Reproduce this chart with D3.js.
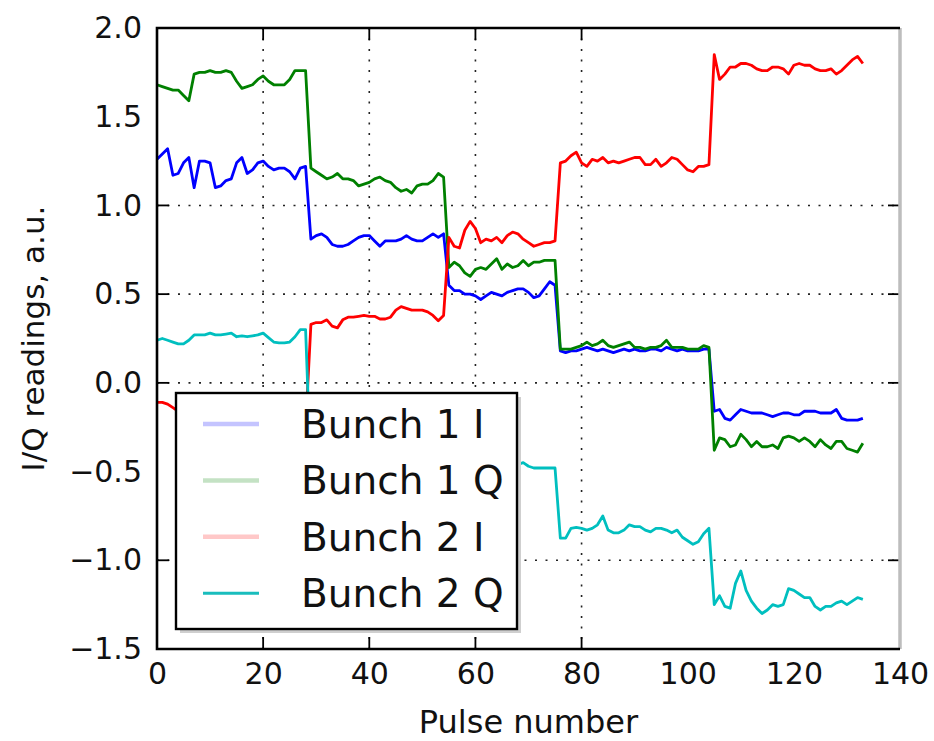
<!doctype html>
<html lang="en">
<head>
    <meta charset="utf-8">
    <title>I/Q readings</title>
    <script src='https://d3js.org/d3.v7.min.js'></script>
    <style>
        body { margin: 0; background: #fff; }
        svg text { font-family: "DejaVu Sans", sans-serif; fill: #111; }
    </style>
</head>
<body>
<script>
    // Series, one value per pulse (pulse = index)
    var bunch1I = [
        1.26,1.29,1.32,1.17,1.18,1.24,1.27,1.10,1.25,1.25,1.24,1.10,1.11,1.14,1.15,1.24,1.27,1.18,1.20,1.24,1.25,1.22,1.20,1.21,1.21,1.19,1.15,1.21,1.22,
        0.81,0.83,0.84,0.82,0.78,0.77,0.77,0.78,0.80,0.82,0.83,0.83,0.80,0.77,0.80,0.80,0.80,0.81,0.83,0.81,0.80,0.80,0.82,0.84,0.82,0.84,
        0.55,0.52,0.52,0.50,0.50,0.49,0.47,0.49,0.51,0.50,0.49,0.51,0.52,0.53,0.53,0.51,0.48,0.49,0.53,0.57,0.55,
        0.18,0.17,0.18,0.18,0.19,0.20,0.19,0.18,0.19,0.18,0.17,0.18,0.19,0.18,0.19,0.18,0.18,0.19,0.19,0.18,0.20,0.19,0.18,0.19,0.18,0.18,0.18,0.19,0.19,
        -0.16,-0.15,-0.20,-0.21,-0.18,-0.15,-0.16,-0.17,-0.17,-0.17,-0.18,-0.19,-0.18,-0.17,-0.17,-0.18,-0.18,-0.16,-0.16,-0.16,-0.17,-0.17,-0.17,-0.15,-0.20,-0.21,-0.21,-0.21,-0.20
    ];
    var bunch1Q = [
        1.68,1.67,1.66,1.65,1.65,1.62,1.59,1.74,1.75,1.75,1.76,1.75,1.75,1.76,1.75,1.70,1.66,1.67,1.68,1.71,1.73,1.70,1.68,1.68,1.68,1.71,1.76,1.76,1.76,
        1.21,1.19,1.17,1.15,1.16,1.18,1.15,1.15,1.14,1.11,1.12,1.13,1.15,1.16,1.14,1.13,1.10,1.08,1.09,1.07,1.11,1.12,1.12,1.14,1.18,1.16,
        0.65,0.68,0.66,0.62,0.60,0.64,0.65,0.64,0.67,0.70,0.64,0.67,0.65,0.66,0.69,0.66,0.68,0.68,0.69,0.69,0.69,
        0.19,0.19,0.19,0.20,0.21,0.23,0.21,0.22,0.24,0.21,0.20,0.21,0.22,0.23,0.20,0.20,0.19,0.20,0.20,0.21,0.24,0.20,0.20,0.20,0.19,0.19,0.19,0.21,0.20,
        -0.38,-0.31,-0.32,-0.36,-0.35,-0.29,-0.32,-0.36,-0.33,-0.36,-0.36,-0.35,-0.37,-0.31,-0.30,-0.31,-0.33,-0.31,-0.33,-0.36,-0.32,-0.35,-0.37,-0.33,-0.33,-0.37,-0.38,-0.39,-0.34
    ];
    var bunch2I = [
        -0.11,-0.11,-0.12,-0.14,-0.16,-0.18,-0.17,-0.19,-0.18,-0.20,-0.19,-0.21,-0.20,-0.19,-0.22,-0.21,-0.20,-0.22,-0.21,-0.23,-0.22,-0.21,-0.23,-0.24,-0.22,-0.23,-0.25,-0.24,-0.25,
        0.33,0.34,0.34,0.355,0.32,0.31,0.355,0.37,0.37,0.375,0.38,0.375,0.375,0.36,0.36,0.37,0.41,0.43,0.42,0.41,0.41,0.41,0.40,0.38,0.35,0.38,
        0.82,0.77,0.76,0.86,0.91,0.87,0.79,0.81,0.80,0.82,0.79,0.83,0.85,0.84,0.81,0.79,0.77,0.78,0.79,0.79,0.80,
        1.24,1.25,1.28,1.30,1.24,1.22,1.26,1.25,1.27,1.24,1.25,1.24,1.25,1.26,1.27,1.27,1.23,1.23,1.26,1.22,1.24,1.27,1.26,1.23,1.20,1.19,1.22,1.22,1.23,
        1.85,1.71,1.74,1.78,1.78,1.80,1.80,1.79,1.77,1.76,1.76,1.78,1.78,1.77,1.74,1.79,1.80,1.79,1.79,1.77,1.76,1.76,1.77,1.74,1.76,1.79,1.82,1.84,1.80
    ];
    var bunch2Q = [
        0.24,0.25,0.24,0.23,0.22,0.22,0.24,0.27,0.27,0.27,0.28,0.27,0.27,0.275,0.28,0.26,0.265,0.26,0.265,0.27,0.28,0.255,0.23,0.225,0.225,0.23,0.26,0.30,0.30,
        -0.52,-0.50,-0.49,-0.51,-0.50,-0.48,-0.49,-0.50,-0.51,-0.49,-0.48,-0.50,-0.49,-0.47,-0.48,-0.50,-0.49,-0.48,-0.47,-0.49,
        -0.48,-0.47,-0.48,-0.49,-0.47,-0.46,-0.48,-0.47,-0.46,-0.47,-0.48,-0.46,-0.47,-0.45,-0.46,-0.47,-0.46,-0.45,-0.46,
        -0.46,-0.45,-0.47,-0.48,-0.48,-0.48,-0.48,-0.48,
        -0.875,-0.875,-0.82,-0.815,-0.82,-0.83,-0.82,-0.80,-0.75,-0.83,-0.845,-0.845,-0.83,-0.80,-0.81,-0.81,-0.83,-0.84,-0.82,-0.82,-0.83,-0.845,-0.83,-0.87,-0.89,-0.91,-0.895,-0.85,-0.82,
        -1.25,-1.20,-1.26,-1.27,-1.13,-1.06,-1.17,-1.23,-1.27,-1.30,-1.28,-1.25,-1.26,-1.25,-1.16,-1.17,-1.19,-1.21,-1.21,-1.26,-1.28,-1.26,-1.26,-1.24,-1.23,-1.25,-1.23,-1.21,-1.22
    ];

    var seriesNames = ["Bunch 1 I", "Bunch 1 Q", "Bunch 2 I", "Bunch 2 Q"];
    var xTicks = [0, 20, 40, 60, 80, 100, 120, 140];
    var yTicks = [-1.5, -1.0, -0.5, 0.0, 0.5, 1.0, 1.5, 2.0];
    // only these grid lines / tick marks show up in the picture
    var xGrid = [20, 40, 60, 80];
    var yGrid = [-1.0, 0.0, 0.5, 1.0];

    const width  = 934;
    const height = 741;
    const plotLeft = 157, plotRight = 900, plotTop = 28, plotBottom = 649;

    var lineColours   = ["#0000ff", "#008000", "#ff0000", "#00bfbf"];
    var legendColours = ["#c4c4ff", "#c4e2c4", "#ffc8c8", "#19bdbd"];

    var svg = d3.select("body")
        .append("svg")
        .attr("width", width)
        .attr("height", height);

    // scales
    var xscale = d3.scaleLinear().domain([0, 140]).range([plotLeft, plotRight]);
    var yscale = d3.scaleLinear().domain([-1.5, 2.0]).range([plotBottom, plotTop]);

    // dotted grid
    svg.append("g").selectAll("line")
        .data(xGrid).enter().append("line")
        .attr("x1", d => xscale(d)).attr("x2", d => xscale(d))
        .attr("y1", plotTop).attr("y2", plotBottom)
        .attr("stroke", "#222").attr("stroke-width", 1.6)
        .attr("stroke-dasharray", "2,8.5");
    svg.append("g").selectAll("line")
        .data(yGrid).enter().append("line")
        .attr("x1", plotLeft).attr("x2", plotRight)
        .attr("y1", d => yscale(d)).attr("y2", d => yscale(d))
        .attr("stroke", "#222").attr("stroke-width", 1.6)
        .attr("stroke-dasharray", "2,8.5");

    // data lines
    var line = d3.line()
        .x((d, i) => xscale(i))
        .y(d => yscale(d));
    var allSeries = [bunch1I, bunch1Q, bunch2I, bunch2Q];
    svg.append("g").selectAll("path")
        .data(allSeries).enter().append("path")
        .attr("d", d => line(d))
        .attr("fill", "none")
        .attr("stroke", (d, i) => lineColours[i])
        .attr("stroke-width", 2.8)
        .attr("stroke-linejoin", "round");

    // axes, ticks drawn separately below
    var xAxis = d3.axisBottom(xscale).tickValues(xTicks).tickSize(0).tickPadding(14)
        .tickFormat(d3.format("d"));
    var yAxis = d3.axisLeft(yscale).tickValues(yTicks).tickSize(0).tickPadding(15)
        .tickFormat(d3.format(".1f"));

    var gx = svg.append("g")
        .attr("transform", "translate(0," + plotBottom + ")")
        .call(xAxis);
    var gy = svg.append("g")
        .attr("transform", "translate(" + plotLeft + ",0)")
        .call(yAxis);
    [gx, gy].forEach(function (g) {
        g.select(".domain").remove();
        g.selectAll("text")
            .attr("font-size", 30)
            .attr("font-family", "DejaVu Sans")
            .attr("fill", "#111");
    });
    gx.selectAll("text").attr("dy", "0.71em");

    // tick marks pointing inwards on all four sides
    var ticks = svg.append("g").attr("stroke", "#000").attr("stroke-width", 1.8);
    xGrid.forEach(function (v) {
        ticks.append("line").attr("x1", xscale(v)).attr("x2", xscale(v))
            .attr("y1", plotBottom).attr("y2", plotBottom - 12);
        ticks.append("line").attr("x1", xscale(v)).attr("x2", xscale(v))
            .attr("y1", plotTop).attr("y2", plotTop + 12);
    });
    yGrid.forEach(function (v) {
        ticks.append("line").attr("x1", plotLeft).attr("x2", plotLeft + 12)
            .attr("y1", yscale(v)).attr("y2", yscale(v));
        ticks.append("line").attr("x1", plotRight).attr("x2", plotRight - 12)
            .attr("y1", yscale(v)).attr("y2", yscale(v));
    });

    // frame
    svg.append("line").attr("x1", plotRight).attr("x2", plotRight)
        .attr("y1", plotTop).attr("y2", plotBottom)
        .attr("stroke", "#bdbdbd").attr("stroke-width", 3.5);
    svg.append("path")
        .attr("d", "M" + plotRight + "," + plotTop + "H" + plotLeft + "V" + plotBottom + "H" + plotRight)
        .attr("fill", "none").attr("stroke", "#000").attr("stroke-width", 2.6);

    // axis labels
    svg.append("text")
        .attr("x", (plotLeft + plotRight) / 2).attr("y", 733)
        .attr("text-anchor", "middle")
        .attr("font-size", 32)
        .attr("fill", "#222")
        .text("Pulse number");
    svg.append("text")
        .attr("transform", "translate(44," + ((plotTop + plotBottom) / 2) + ") rotate(-90)")
        .attr("text-anchor", "middle")
        .attr("font-size", 31)
        .attr("fill", "#222")
        .text("I/Q readings, a.u.");

    // legend with shadow
    var lg = svg.append("g").attr("transform", "translate(176,393)");
    lg.append("rect").attr("x", 4).attr("y", 4)
        .attr("width", 341).attr("height", 236)
        .attr("fill", "#cfcfcf");
    lg.append("rect")
        .attr("width", 341).attr("height", 236)
        .attr("fill", "#fff").attr("stroke", "#000").attr("stroke-width", 2.4);
    var item = lg.selectAll(".item")
        .data(seriesNames).enter().append("g")
        .attr("transform", (d, i) => "translate(0," + (31 + i * 56.4) + ")");
    item.append("line")
        .attr("x1", 27).attr("x2", 83)
        .attr("stroke", (d, i) => legendColours[i])
        .attr("stroke-width", (d, i) => i == 3 ? 3 : 4.5);
    item.append("text")
        .attr("x", 125).attr("y", 14)
        .attr("font-size", 39)
        .attr("fill", "#000")
        .text(d => d);
</script>
</body>
</html>
